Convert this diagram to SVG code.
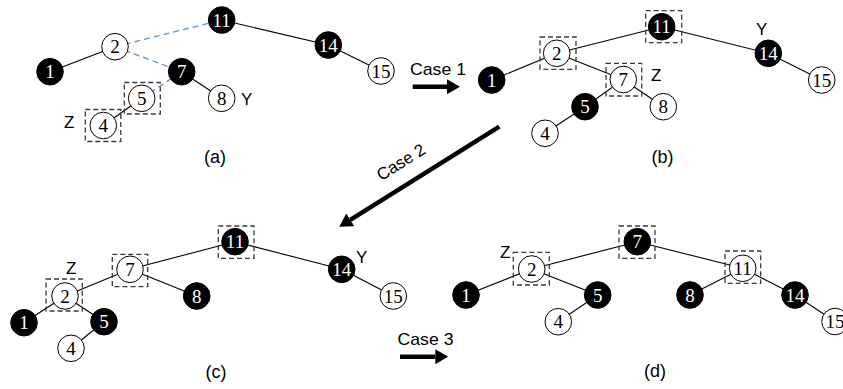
<svg xmlns="http://www.w3.org/2000/svg" width="843" height="389" viewBox="0 0 843 389">
  <style>
    .edge { stroke: #000; stroke-width: 1.1; fill: none; }
    .edge.blue { stroke: #5b8fd8; stroke-width: 1.3; stroke-dasharray: 6 4; }
    .node circle { stroke: #000; stroke-width: 1; }
    .node.b circle { fill: #000; }
    .node.w circle { fill: #fff; }
    .node text { font-family: "Liberation Serif", "DejaVu Serif", serif; font-size: 19px; text-anchor: middle; }
    .node.b text { fill: #fff; }
    .node.w text { fill: #000; }
    .hl { fill: none; stroke: #3a3a3a; stroke-width: 1.3; stroke-dasharray: 5 3; }
    .lbl { font-family: "Liberation Sans", Arial, sans-serif; font-size: 17px; fill: #000; }
    .cap { font-family: "Liberation Sans", Arial, sans-serif; font-size: 18px; fill: #000; text-anchor: middle; }
    .step { stroke: #000; stroke-width: 4.5; fill: none; marker-end: url(#head); }
  </style>
  <defs>
    <marker id="head" markerUnits="userSpaceOnUse" viewBox="0 0 13 15" markerWidth="13" markerHeight="15" refX="0" refY="7.5" orient="auto">
      <path d="M0,0 L13,7.5 L0,15 Z" fill="#000"/>
    </marker>
  </defs>

  <!-- ===== tree edges ===== -->
  <g id="connectors">
    <!-- (a) -->
    <line class="edge blue" x1="115" y1="46.7" x2="221.7" y2="20"/>
    <line class="edge blue" x1="115" y1="46.7" x2="181.7" y2="71.7"/>
    <line class="edge blue" x1="141.7" y1="98.3" x2="181.7" y2="71.7"/>
    <line class="edge" x1="115" y1="46.7" x2="50" y2="71.7"/>
    <line class="edge" x1="181.7" y1="71.7" x2="221.7" y2="98.3"/>
    <line class="edge" x1="141.7" y1="98.3" x2="103.3" y2="125.5"/>
    <line class="edge" x1="221.7" y1="20" x2="328.3" y2="45"/>
    <line class="edge" x1="328.3" y1="45" x2="381" y2="71"/>
    <!-- (b) -->
    <line class="edge" x1="661.7" y1="26.7" x2="556.7" y2="53.3"/>
    <line class="edge" x1="661.7" y1="26.7" x2="768.3" y2="53.3"/>
    <line class="edge" x1="768.3" y1="53.3" x2="821.7" y2="80"/>
    <line class="edge" x1="556.7" y1="53.3" x2="491.7" y2="80"/>
    <line class="edge" x1="556.7" y1="53.3" x2="623.3" y2="79.5"/>
    <line class="edge" x1="623.3" y1="79.5" x2="585" y2="106.7"/>
    <line class="edge" x1="623.3" y1="79.5" x2="663.3" y2="106.7"/>
    <line class="edge" x1="585" y1="106.7" x2="545" y2="133.3"/>
    <!-- (c) -->
    <line class="edge" x1="235" y1="241.7" x2="130" y2="269.3"/>
    <line class="edge" x1="235" y1="241.7" x2="341.7" y2="269.3"/>
    <line class="edge" x1="341.7" y1="269.3" x2="393.3" y2="296"/>
    <line class="edge" x1="130" y1="269.3" x2="65" y2="296"/>
    <line class="edge" x1="130" y1="269.3" x2="196.7" y2="296"/>
    <line class="edge" x1="65" y1="296" x2="24" y2="322.7"/>
    <line class="edge" x1="65" y1="296" x2="104" y2="321.7"/>
    <line class="edge" x1="104" y1="321.7" x2="71" y2="348.3"/>
    <!-- (d) -->
    <line class="edge" x1="637.3" y1="241.7" x2="531.7" y2="269"/>
    <line class="edge" x1="637.3" y1="241.7" x2="742.7" y2="268.3"/>
    <line class="edge" x1="531.7" y1="269" x2="466" y2="295"/>
    <line class="edge" x1="531.7" y1="269" x2="597.7" y2="295"/>
    <line class="edge" x1="597.7" y1="295" x2="558.3" y2="321.7"/>
    <line class="edge" x1="742.7" y1="268.3" x2="690" y2="295"/>
    <line class="edge" x1="742.7" y1="268.3" x2="795" y2="295"/>
    <line class="edge" x1="795" y1="295" x2="835" y2="321.5"/>
  </g>

  <!-- ===== (a) ===== -->
  <g id="a-11" class="node b"><circle cx="221.7" cy="20" r="13.3"/><text x="221.7" y="26.5">11</text></g>
  <g id="a-2" class="node w"><circle cx="115" cy="46.7" r="13.3"/><text x="115" y="53.2">2</text></g>
  <g id="a-1" class="node b"><circle cx="50" cy="71.7" r="13.3"/><text x="50" y="78.2">1</text></g>
  <g id="a-7" class="node b"><circle cx="181.7" cy="71.7" r="13.3"/><text x="181.7" y="78.2">7</text></g>
  <g id="a-8" class="node w"><circle cx="221.7" cy="98.3" r="13.3"/><text x="221.7" y="104.8">8</text></g>
  <g id="a-5" class="node w"><rect class="hl" x="124.3" y="82.5" width="36" height="31.5"/><circle cx="141.7" cy="98.3" r="13.3"/><text x="141.7" y="104.8">5</text></g>
  <g id="a-4" class="node w"><rect class="hl" x="85.3" y="109.5" width="35.5" height="32"/><circle cx="103.3" cy="125.5" r="13.3"/><text x="103.3" y="132">4</text></g>
  <g id="a-14" class="node b"><circle cx="328.3" cy="45" r="13.3"/><text x="328.3" y="51.5">14</text></g>
  <g id="a-15" class="node w"><circle cx="381" cy="71" r="13.3"/><text x="381" y="77.5">15</text></g>
  <text class="lbl" x="64" y="128">Z</text>
  <text class="lbl" x="241" y="104.5">Y</text>
  <text class="cap" x="215" y="163">(a)</text>

  <!-- ===== (b) ===== -->
  <g id="b-11" class="node b"><rect class="hl" x="645.7" y="10.7" width="36" height="32"/><circle cx="661.7" cy="26.7" r="13.3"/><text x="661.7" y="33.2">11</text></g>
  <g id="b-2" class="node w"><rect class="hl" x="540" y="37" width="36" height="32.3"/><circle cx="556.7" cy="53.3" r="13.3"/><text x="556.7" y="59.8">2</text></g>
  <g id="b-1" class="node b"><circle cx="491.7" cy="80" r="13.3"/><text x="491.7" y="86.5">1</text></g>
  <g id="b-7" class="node w"><rect class="hl" x="606" y="63.3" width="35.7" height="32.7"/><circle cx="623.3" cy="79.5" r="13.3"/><text x="623.3" y="86">7</text></g>
  <g id="b-5" class="node b"><circle cx="585" cy="106.7" r="13.3"/><text x="585" y="113.2">5</text></g>
  <g id="b-8" class="node w"><circle cx="663.3" cy="106.7" r="13.3"/><text x="663.3" y="113.2">8</text></g>
  <g id="b-4" class="node w"><circle cx="545" cy="133.3" r="13.3"/><text x="545" y="139.8">4</text></g>
  <g id="b-14" class="node b"><circle cx="768.3" cy="53.3" r="13.3"/><text x="768.3" y="59.8">14</text></g>
  <g id="b-15" class="node w"><circle cx="821.7" cy="80" r="13.3"/><text x="821.7" y="86.5">15</text></g>
  <text class="lbl" x="651" y="81">Z</text>
  <text class="lbl" x="756" y="34.5">Y</text>
  <text class="cap" x="662.5" y="163">(b)</text>

  <!-- ===== (c) ===== -->
  <g id="c-11" class="node b"><rect class="hl" x="218.3" y="226" width="35.7" height="32.3"/><circle cx="235" cy="241.7" r="13.3"/><text x="235" y="248.2">11</text></g>
  <g id="c-7" class="node w"><rect class="hl" x="112.3" y="254.3" width="35.4" height="32.4"/><circle cx="130" cy="269.3" r="13.3"/><text x="130" y="275.8">7</text></g>
  <g id="c-2" class="node w"><rect class="hl" x="46" y="279" width="36.3" height="32"/><circle cx="65" cy="296" r="13.3"/><text x="65" y="302.5">2</text></g>
  <g id="c-8" class="node b"><circle cx="196.7" cy="296" r="13.3"/><text x="196.7" y="302.5">8</text></g>
  <g id="c-1" class="node b"><circle cx="24" cy="322.7" r="13.3"/><text x="24" y="329.2">1</text></g>
  <g id="c-5" class="node b"><circle cx="104" cy="321.7" r="13.3"/><text x="104" y="328.2">5</text></g>
  <g id="c-4" class="node w"><circle cx="71" cy="348.3" r="13.3"/><text x="71" y="354.8">4</text></g>
  <g id="c-14" class="node b"><circle cx="341.7" cy="269.3" r="13.3"/><text x="341.7" y="275.8">14</text></g>
  <g id="c-15" class="node w"><circle cx="393.3" cy="296" r="13.3"/><text x="393.3" y="302.5">15</text></g>
  <text class="lbl" x="66" y="273.5">Z</text>
  <text class="lbl" x="356" y="263">Y</text>
  <text class="cap" x="216" y="378">(c)</text>

  <!-- ===== (d) ===== -->
  <g id="d-7" class="node b"><rect class="hl" x="619" y="226" width="36" height="32.3"/><circle cx="637.3" cy="241.7" r="13.3"/><text x="637.3" y="248.2">7</text></g>
  <g id="d-2" class="node w"><rect class="hl" x="513.3" y="252.3" width="36" height="32.7"/><circle cx="531.7" cy="269" r="13.3"/><text x="531.7" y="275.5">2</text></g>
  <g id="d-11" class="node w"><rect class="hl" x="725" y="251" width="35.7" height="32.3"/><circle cx="742.7" cy="268.3" r="13.3"/><text x="742.7" y="274.8">11</text></g>
  <g id="d-1" class="node b"><circle cx="466" cy="295" r="13.3"/><text x="466" y="301.5">1</text></g>
  <g id="d-5" class="node b"><circle cx="597.7" cy="295" r="13.3"/><text x="597.7" y="301.5">5</text></g>
  <g id="d-4" class="node w"><circle cx="558.3" cy="321.7" r="13.3"/><text x="558.3" y="328.2">4</text></g>
  <g id="d-8" class="node b"><circle cx="690" cy="295" r="13.3"/><text x="690" y="301.5">8</text></g>
  <g id="d-14" class="node b"><circle cx="795" cy="295" r="13.3"/><text x="795" y="301.5">14</text></g>
  <g id="d-15" class="node w"><circle cx="835" cy="321.5" r="13.3"/><text x="835" y="328">15</text></g>
  <text class="lbl" x="500" y="258">Z</text>
  <text class="cap" x="655" y="377">(d)</text>

  <!-- ===== transformation steps ===== -->
  <g id="steps">
    <text class="lbl" x="410" y="75" textLength="56" lengthAdjust="spacingAndGlyphs">Case 1</text>
    <line class="step" x1="412.7" y1="86.7" x2="447" y2="86.7"/>

    <text class="lbl" transform="rotate(-32 404 167)" x="404" y="167" text-anchor="middle">Case 2</text>
    <line class="step" x1="499.3" y1="126.7" x2="350.3" y2="219.8"/>

    <text class="lbl" x="397.5" y="345" textLength="56" lengthAdjust="spacingAndGlyphs">Case 3</text>
    <line class="step" x1="400" y1="356.7" x2="435.3" y2="356.7"/>
  </g>
</svg>
